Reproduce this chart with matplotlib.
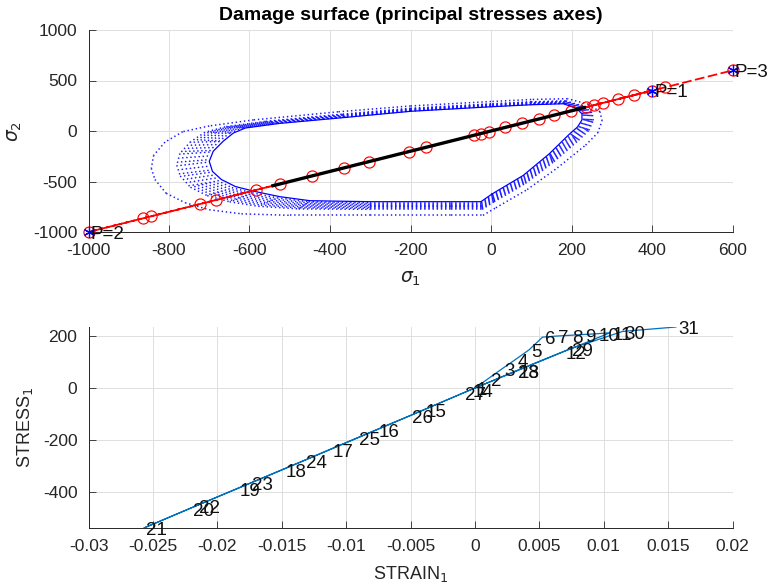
import numpy as np
import matplotlib
matplotlib.use("Agg")
import matplotlib.pyplot as plt
from matplotlib.collections import LineCollection
from matplotlib.ticker import FixedLocator, FixedFormatter

plt.rcParams['font.family'] = ['Liberation Sans', 'DejaVu Sans']
plt.rcParams['axes.unicode_minus'] = False
plt.rcParams['lines.scale_dashes'] = False
plt.rcParams['mathtext.fontset'] = 'dejavusans'

# ---------------- data ----------------
# damage surface in principal stress space: innermost boundary
surf_in_s1 = [2, 80, 145, 195, 215, 226, 226, 212, 180, 100, 0, -200, -360,
              -526, -610, -640, -665, -690, -700, -692, -670, -635, -585, -525,
              -450, -300, -100, -25]
surf_in_s2 = [-625, -440, -225, -30, 40, 110, 170, 225, 270, 260, 240, 195, 135,
              75, 30, -20, -100, -200, -300, -400, -480, -550, -600, -650,
              -690, -700, -700, -700]
# outermost damage surface (same vertex order)
surf_out_s1 = [12, 90, 165, 235, 265, 276, 271, 242, 190, 100, 0, -200, -380,
               -590, -700, -766, -810, -838, -844, -835, -807, -760, -700, -620,
               -500, -300, -100, -20]
surf_out_s2 = [-760, -580, -365, -140, -20, 100, 190, 265, 320, 312, 292, 248, 190,
               110, 50, -7, -110, -240, -369, -480, -617, -710, -780, -820,
               -835, -835, -835, -835]
# relative position of the intermediate surfaces between inner and outer
surf_levels = [0.07, 0.14, 0.21, 0.28, 0.35, 0.42, 0.49, 0.56, 1.0]

# loading path (sigma_1 = sigma_2)
path_s = [0, 400, -1000, 600]
step_s = [-1000, -865, -844, -723, -684, -584, -523, -444, -365, -303, -203,
          -162, -42, -26, -5, 36, 77, 119, 156, 198, 235, 257, 278, 316,
          355, 400, 433, 600]
elastic_s = [-546, 236]
p_s1 = [400, -1000, 600]
p_s2 = [400, -1000, 600]
p_names = ['P=1', 'P=2', 'P=3']

# uniaxial response, steps 1..31
strain_1 = [0.0, 0.00105, 0.0021, 0.00315, 0.0042, 0.00525, 0.0063, 0.00735,
            0.0084, 0.00945, 0.0105, 0.00688, 0.00326, -0.00036, -0.00398,
            -0.0076, -0.01122, -0.01484, -0.01846, -0.02208, -0.0257,
            -0.02157, -0.01744, -0.01331, -0.00918, -0.00505, -0.00092,
            0.00321, 0.00734, 0.01147, 0.0156]
stress_1 = [0, 37, 74, 110, 147, 196, 200, 203, 206, 209, 213, 140, 66, -7,
            -84, -160, -236, -312, -387, -462, -538, -451, -365, -279, -192,
            -106, -19, 67, 150, 218, 235]

sig_ticks = [-1000, -800, -600, -400, -200, 0, 200, 400, 600]
sig2_ticks = [-1000, -500, 0, 500, 1000]
strain_ticks = [-0.03, -0.025, -0.02, -0.015, -0.01, -0.005, 0, 0.005, 0.01, 0.015, 0.02]
strain_ticklabels = ['-0.03', '-0.025', '-0.02', '-0.015', '-0.01', '-0.005', '0',
                     '0.005', '0.01', '0.015', '0.02']
stress_ticks = [-400, -200, 0, 200]

# ---------------- figure ----------------
W, H = 769, 587
fig = plt.figure(figsize=(W / 100, H / 100), dpi=100)
ax1 = fig.add_axes([88.5 / W, 1 - 232 / H, 644 / W, 202 / H])
ax2 = fig.add_axes([88.5 / W, 1 - 528 / H, 644 / W, 201 / H])

axcol = '#262626'
gridcol = '#dedede'


def style_axes(ax):
    for side in ('top', 'right'):
        ax.spines[side].set_visible(False)
    for side in ('left', 'bottom'):
        ax.spines[side].set_color(axcol)
        ax.spines[side].set_linewidth(0.7)
    ax.tick_params(direction='in', length=4.7, width=0.6, colors=axcol,
                   labelsize=12.5, pad=8)
    ax.grid(True, color=gridcol, linewidth=0.7)
    ax.set_axisbelow(True)


# ---- top: damage surface ----
style_axes(ax1)
ax1.set_xlim(-1000, 600)
ax1.set_ylim(-1000, 1000)
ax1.set_xticks(sig_ticks)
ax1.set_yticks(sig2_ticks)

ins = np.column_stack([surf_in_s1, surf_in_s2]).astype(float)
outs = np.column_stack([surf_out_s1, surf_out_s2]).astype(float)
for f in surf_levels:
    v = ins + f * (outs - ins)
    segs = [[v[i], v[(i + 1) % len(v)]] for i in range(len(v))]
    lc = LineCollection(segs, colors=[(0.1, 0.1, 1.0)], linewidths=1.1,
                        linestyles=[(0, (1.0, 2.0))], zorder=2)
    ax1.add_collection(lc)
closed = np.vstack([ins, ins[:1]])
ax1.plot(closed[:, 0], closed[:, 1], color='b', lw=0.9, zorder=2.5)

ax1.plot(path_s, path_s, color='r', lw=1.3, dashes=(7, 2.5), zorder=3)
ax1.plot(step_s, step_s, ls='none', marker='o', ms=8, mfc='none', mec='r',
         mew=0.85, zorder=3.5, clip_on=False)
ax1.plot(elastic_s, elastic_s, color='k', lw=2.4, solid_capstyle='butt', zorder=4)
ax1.plot(p_s1, p_s2, ls='none', marker=(6, 2, 0), ms=8, mec='b', mew=0.9,
         zorder=5, clip_on=False)
for x, y, t in zip(p_s1, p_s2, p_names):
    ax1.annotate(t, (x, y), xytext=(1.5, -1.5), textcoords='offset points',
                 ha='left', va='center', fontsize=13.5, color='#111111',
                 annotation_clip=False, zorder=6)

ax1.set_title('Damage surface (principal stresses axes)', fontsize=14,
              fontweight='bold', color='black', y=1 + 14 / 202, va='center', pad=0)
ax1.set_xlabel(r'$\sigma_1$', fontsize=13.5, color=axcol, va='center')
ax1.xaxis.set_label_coords(0.5, -47 / 202)
ax1.set_ylabel(r'$\sigma_2$', fontsize=13.5, color=axcol, va='center')
ax1.yaxis.set_label_coords(-74 / 644, 0.5)

# ---- bottom: stress-strain ----
style_axes(ax2)
ax2.plot(strain_1, stress_1, color='#0072BD', lw=0.9, zorder=3)
for i, (x, y) in enumerate(zip(strain_1, stress_1)):
    ax2.annotate(str(i + 1), (x, y), xytext=(1.5, -2), textcoords='offset points',
                 ha='left', va='center', fontsize=13.5, color='#111111',
                 annotation_clip=False, zorder=4)
ax2.set_xlim(-0.03, 0.02)
ax2.set_ylim(min(stress_1), max(stress_1))
ax2.xaxis.set_major_locator(FixedLocator(strain_ticks))
ax2.xaxis.set_major_formatter(FixedFormatter(strain_ticklabels))
ax2.set_yticks(stress_ticks)
ax2.set_xlabel(r'STRAIN$_1$', fontsize=13, color=axcol, va='center')
ax2.xaxis.set_label_coords(0.5, -46 / 201)
ax2.set_ylabel(r'STRESS$_1$', fontsize=13, color=axcol, va='center')
ax2.yaxis.set_label_coords(-64 / 644, 0.5)

fig.savefig('out.png', dpi=100)
